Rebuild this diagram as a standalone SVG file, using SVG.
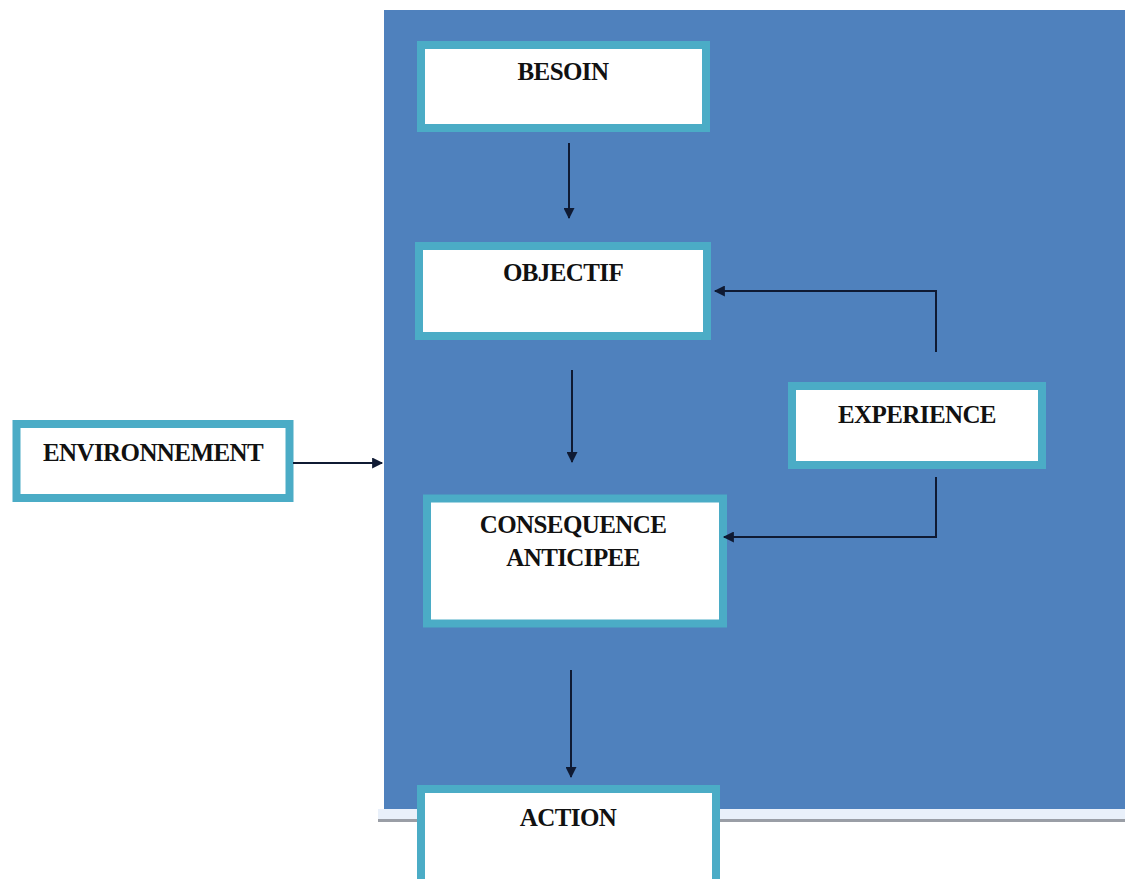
<svg xmlns="http://www.w3.org/2000/svg" width="1125" height="879" viewBox="0 0 1125 879">
  <style>
    .box { fill: #ffffff; stroke: #4BACC6; stroke-width: 8; }
    .lbl { font-family: "Liberation Serif", "Times New Roman", serif; font-weight: bold; font-size: 25px; fill: #111111; text-anchor: middle; letter-spacing: -0.6px; }
    .link { fill: none; stroke: #0f1a33; stroke-width: 2; }
  </style>
  <defs>
    <marker id="arrow" viewBox="0 0 10 10" refX="9" refY="5" markerWidth="12" markerHeight="11" orient="auto" markerUnits="userSpaceOnUse">
      <path d="M0,0 L10,5 L0,10 z" fill="#0f1a33"/>
    </marker>
  </defs>

  <rect width="1125" height="879" fill="#ffffff"/>

  <!-- background panel with its drop edge -->
  <g id="panel">
    <rect x="378" y="809" width="747" height="10" fill="#e9f0fa"/>
    <rect x="378" y="819" width="747" height="3" fill="#9a9ea6"/>
    <rect x="384" y="10" width="741" height="799" fill="#4F81BD"/>
  </g>

  <g id="besoin">
    <rect class="box" x="421" y="45" width="285" height="83"/>
    <text class="lbl" x="563" y="80">BESOIN</text>
  </g>

  <g id="objectif">
    <rect class="box" x="419" y="246" width="288" height="90"/>
    <text class="lbl" x="563" y="281">OBJECTIF</text>
  </g>

  <g id="environnement">
    <rect class="box" x="16.5" y="424" width="273" height="74"/>
    <text class="lbl" x="153" y="461">ENVIRONNEMENT</text>
  </g>

  <g id="experience">
    <rect class="box" x="792" y="386" width="250" height="79"/>
    <text class="lbl" x="917" y="423">EXPERIENCE</text>
  </g>

  <g id="consequence">
    <rect class="box" x="427" y="498.5" width="296" height="125"/>
    <text class="lbl" x="573" y="533">CONSEQUENCE</text>
    <text class="lbl" x="573" y="566">ANTICIPEE</text>
  </g>

  <g id="action">
    <rect class="box" x="421" y="789" width="295" height="96"/>
    <text class="lbl" x="568" y="826">ACTION</text>
  </g>

  <g id="connectors">
    <line class="link" x1="569" y1="143" x2="569" y2="218" marker-end="url(#arrow)"/>
    <line class="link" x1="572" y1="370" x2="572" y2="462" marker-end="url(#arrow)"/>
    <line class="link" x1="571" y1="670" x2="571" y2="777" marker-end="url(#arrow)"/>
    <line class="link" x1="293" y1="463" x2="382" y2="463" marker-end="url(#arrow)"/>
    <polyline class="link" points="936,352 936,291 715,291" marker-end="url(#arrow)"/>
    <polyline class="link" points="936,477 936,537 724,537" marker-end="url(#arrow)"/>
  </g>
</svg>
